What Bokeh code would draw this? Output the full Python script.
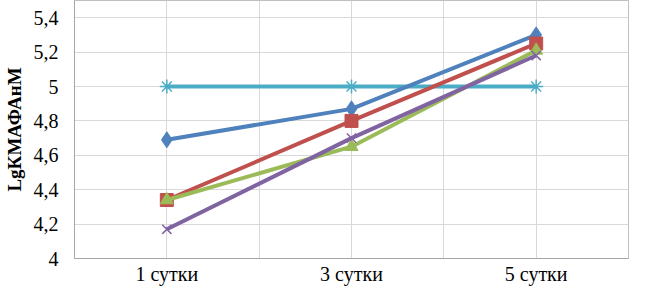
from bokeh.plotting import figure
from bokeh.models import FixedTicker, Range1d
from bokeh.embed import file_html
from bokeh.resources import INLINE

categories = ["1 сутки", "3 сутки", "5 сутки"]
x_pos = [1, 3, 5]
s_blue = [4.69, 4.87, 5.30]
s_red = [4.34, 4.80, 5.25]
s_green = [4.34, 4.65, 5.21]
s_purple = [4.17, 4.70, 5.18]
s_cyan = [5.0, 5.0, 5.0]
y_ticks = [4.0, 4.2, 4.4, 4.6, 4.8, 5.0, 5.2, 5.4]
y_labels = ["4", "4,2", "4,4", "4,6", "4,8", "5", "5,2", "5,4"]

FONT = "Liberation Serif"

p = figure(width=629, height=287, output_backend="svg", toolbar_location=None,
           x_range=Range1d(0, 6), y_range=Range1d(4, 5.5),
           min_border_left=74, min_border_right=1, min_border_top=0, min_border_bottom=0)
p.outline_line_color = "#bfbfbf"
p.outline_line_width = 1
p.background_fill_color = "white"
p.border_fill_color = "white"

p.xgrid.ticker = FixedTicker(ticks=[0, 1, 2, 3, 4, 5, 6])
p.ygrid.ticker = FixedTicker(ticks=y_ticks + [5.5])
p.xgrid.grid_line_color = "#d9d9d9"
p.ygrid.grid_line_color = "#d9d9d9"

p.xaxis.ticker = FixedTicker(ticks=x_pos)
p.xaxis.major_label_overrides = {x: c for x, c in zip(x_pos, categories)}
p.yaxis.ticker = FixedTicker(ticks=y_ticks)
p.yaxis.major_label_overrides = {t: l for t, l in zip(y_ticks, y_labels)}
for ax in [p.xaxis[0], p.yaxis[0]]:
    ax.axis_line_color = "#a6a6a6"
    ax.major_tick_line_color = None
    ax.minor_tick_line_color = None
    ax.major_tick_out = 0
    ax.major_tick_in = 0
    ax.major_label_text_font = FONT
    ax.major_label_text_font_size = "20px"
    ax.major_label_text_color = "black"
p.xaxis[0].major_label_standoff = 4
p.yaxis[0].major_label_standoff = 16

p.yaxis[0].axis_label = "LgКМАФАнМ"
p.yaxis[0].axis_label_text_font = FONT
p.yaxis[0].axis_label_text_font_style = "bold"
p.yaxis[0].axis_label_text_font_size = "19px"
p.yaxis[0].axis_label_text_color = "black"
p.yaxis[0].axis_label_standoff = 6

lw = 4
c_blue, c_red, c_green, c_purple, c_cyan = "#4F81BD", "#C0504D", "#9BBB59", "#8064A2", "#4BACC6"

p.line(x_pos, s_cyan, color=c_cyan, line_width=lw)
p.asterisk(x_pos, s_cyan, size=14, line_color=c_cyan, line_width=1.5)
p.line(x_pos, s_blue, color=c_blue, line_width=lw)
p.diamond(x_pos, s_blue, size=16, color=c_blue)
p.line(x_pos, s_red, color=c_red, line_width=lw)
p.square(x_pos, s_red, size=13, color=c_red)
p.line(x_pos, s_green, color=c_green, line_width=lw)
p.triangle(x_pos, s_green, size=13, color=c_green)
p.line(x_pos, s_purple, color=c_purple, line_width=lw)
p.x(x_pos, s_purple, size=13, line_color=c_purple, line_width=1.5)

open("out.html", "w").write(file_html(p, INLINE))
